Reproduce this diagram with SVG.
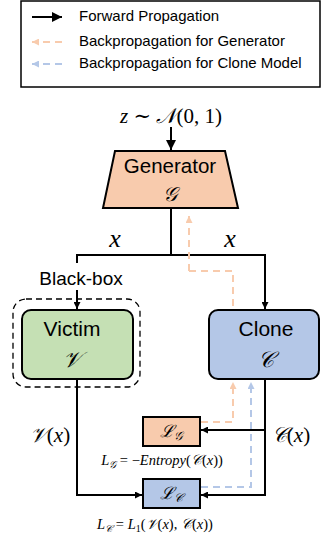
<svg xmlns="http://www.w3.org/2000/svg" width="321" height="539" viewBox="0 0 321 539">
<defs>
<marker id="ah" viewBox="0 0 10 10" refX="10" refY="5" markerWidth="7" markerHeight="7" markerUnits="userSpaceOnUse" orient="auto"><path d="M0,0 L10,5 L0,10 z" fill="#000"/></marker>
<marker id="ahL" viewBox="0 0 10 10" refX="10" refY="5" markerWidth="10" markerHeight="10" markerUnits="userSpaceOnUse" orient="auto"><path d="M0,0 L10,5 L0,10 z" fill="#000"/></marker>
<marker id="ao" viewBox="0 0 10 10" refX="10" refY="5" markerWidth="7" markerHeight="7" markerUnits="userSpaceOnUse" orient="auto"><path d="M0,0 L10,5 L0,10 z" fill="#F8CBAD"/></marker>
<marker id="ab" viewBox="0 0 10 10" refX="10" refY="5" markerWidth="7" markerHeight="7" markerUnits="userSpaceOnUse" orient="auto"><path d="M0,0 L10,5 L0,10 z" fill="#B4C7E7"/></marker>
</defs>
<style>
.sans{font-family:"Liberation Sans",Arial,sans-serif;fill:#000}
.math{font-family:"Liberation Serif","DejaVu Serif",serif;font-style:italic;fill:#000}
.mr{font-family:"Liberation Serif","DejaVu Serif",serif;fill:#000}
.fw{stroke:#000;stroke-width:2;fill:none}
.bo{stroke:#F8CBAD;stroke-width:2;fill:none;stroke-dasharray:7,5}
.bb{stroke:#B4C7E7;stroke-width:2;fill:none;stroke-dasharray:7,5}
.node{stroke:#000;stroke-width:2}
</style>
<rect width="321" height="539" fill="#fff"/>
<g id="legend">
<rect x="21" y="1" width="299" height="86" fill="#fff" stroke="#000" stroke-width="1.5"/>
<line x1="32" y1="17" x2="62" y2="17" class="fw" marker-end="url(#ahL)"/>
<line x1="62" y1="42" x2="32" y2="42" class="bo" marker-end="url(#ao)"/>
<line x1="62" y1="64" x2="32" y2="64" class="bb" marker-end="url(#ab)"/>
<text x="79" y="21" class="sans" font-size="15">Forward Propagation</text>
<text x="79" y="46" class="sans" font-size="15">Backpropagation for Generator</text>
<text x="79" y="68" class="sans" font-size="15">Backpropagation for Clone Model</text>
</g>
<g id="noise"><text x="171" y="123" class="math" font-size="21" text-anchor="middle">z ∼ 𝒩<tspan class="mr" font-style="normal">(0, 1)</tspan></text></g>
<g id="generator">
<polygon points="115,151 225,151 238,208 103,208" fill="#F8CBAD" class="node"/>
<text x="170" y="173" class="sans" font-size="20.5" text-anchor="middle">Generator</text>
<text x="170" y="201" class="math" font-size="20" text-anchor="middle">𝒢</text>
</g>
<g id="victim">
<rect x="13" y="299" width="127" height="88" rx="13" fill="none" stroke="#000" stroke-width="1.3" stroke-dasharray="6,4"/>
<rect x="22" y="310" width="111" height="69" rx="9" fill="#C5E0B4" class="node"/>
<text x="72" y="336" class="sans" font-size="21" text-anchor="middle">Victim</text>
<text x="72" y="367" class="math" font-size="22" text-anchor="middle">𝒱</text>
</g>
<g id="clone">
<rect x="209" y="310" width="110" height="69" rx="9" fill="#B4C7E7" class="node"/>
<text x="266" y="336" class="sans" font-size="21" text-anchor="middle">Clone</text>
<text x="266" y="367" class="math" font-size="22" text-anchor="middle">𝒞</text>
</g>
<g id="lossG">
<rect x="143" y="417" width="57" height="29" fill="#F8CBAD" class="node"/>
<text x="171" y="437" class="math" font-size="17" text-anchor="middle">ℒ<tspan font-size="12" dy="3">𝒢</tspan></text>
</g>
<g id="lossC">
<rect x="143" y="479" width="57" height="29" fill="#B4C7E7" class="node"/>
<text x="171" y="499" class="math" font-size="17" text-anchor="middle">ℒ<tspan font-size="12" dy="3">𝒞</tspan></text>
</g>
<g id="connectors">
<line x1="171" y1="127" x2="171" y2="150" class="fw" marker-end="url(#ahL)"/>
<polyline points="171,209 171,255" class="fw"/>
<polyline points="77,255 265,255" class="fw"/>
<polyline points="77,254 77,263" class="fw"/>
<line x1="77" y1="290" x2="77" y2="309" class="fw" marker-end="url(#ah)"/>
<line x1="265" y1="254" x2="265" y2="309" class="fw" marker-end="url(#ah)"/>
<polyline points="189,271 233,271 233,309" class="bo"/>
<line x1="189" y1="271" x2="189" y2="216" class="bo" marker-end="url(#ao)"/>
<polyline points="77,380 77,495 142,495" class="fw" marker-end="url(#ah)"/>
<polyline points="265,380 265,495 201,495" class="fw" marker-end="url(#ah)"/>
<line x1="265" y1="430" x2="201" y2="430" class="fw" marker-end="url(#ah)"/>
<polyline points="201,422 233,422 233,382" class="bo" marker-end="url(#ao)"/>
<polyline points="201,487 251,487 251,382" class="bb" marker-end="url(#ab)"/>
</g>
<g id="labels">
<text x="115" y="247" class="math" font-size="26" text-anchor="middle">x</text>
<text x="230" y="247" class="math" font-size="26" text-anchor="middle">x</text>
<text x="81" y="285" class="sans" font-size="19" text-anchor="middle">Black-box</text>
<text x="50" y="442" class="math" font-size="21" text-anchor="middle">𝒱<tspan class="mr" font-style="normal">(</tspan>x<tspan class="mr" font-style="normal">)</tspan></text>
<text x="291" y="442" class="math" font-size="21" text-anchor="middle">𝒞<tspan class="mr" font-style="normal">(</tspan>x<tspan class="mr" font-style="normal">)</tspan></text>
<text x="162" y="465" class="math" font-size="14.5" text-anchor="middle">L<tspan font-size="10" dy="3">𝒢</tspan><tspan dy="-3" class="mr" font-style="normal"> = −</tspan>Entropy<tspan class="mr" font-style="normal">(</tspan>𝒞<tspan class="mr" font-style="normal">(</tspan>x<tspan class="mr" font-style="normal">))</tspan></text>
<text x="155" y="529" class="math" font-size="14.5" text-anchor="middle">L<tspan font-size="10" dy="3">𝒞</tspan><tspan dy="-3" class="mr" font-style="normal"> = </tspan>L<tspan font-size="10" dy="3" class="mr" font-style="normal">1</tspan><tspan dy="-3" class="mr" font-style="normal">(</tspan>𝒱<tspan class="mr" font-style="normal">(</tspan>x<tspan class="mr" font-style="normal">), </tspan>𝒞<tspan class="mr" font-style="normal">(</tspan>x<tspan class="mr" font-style="normal">))</tspan></text>
</g>
</svg>
